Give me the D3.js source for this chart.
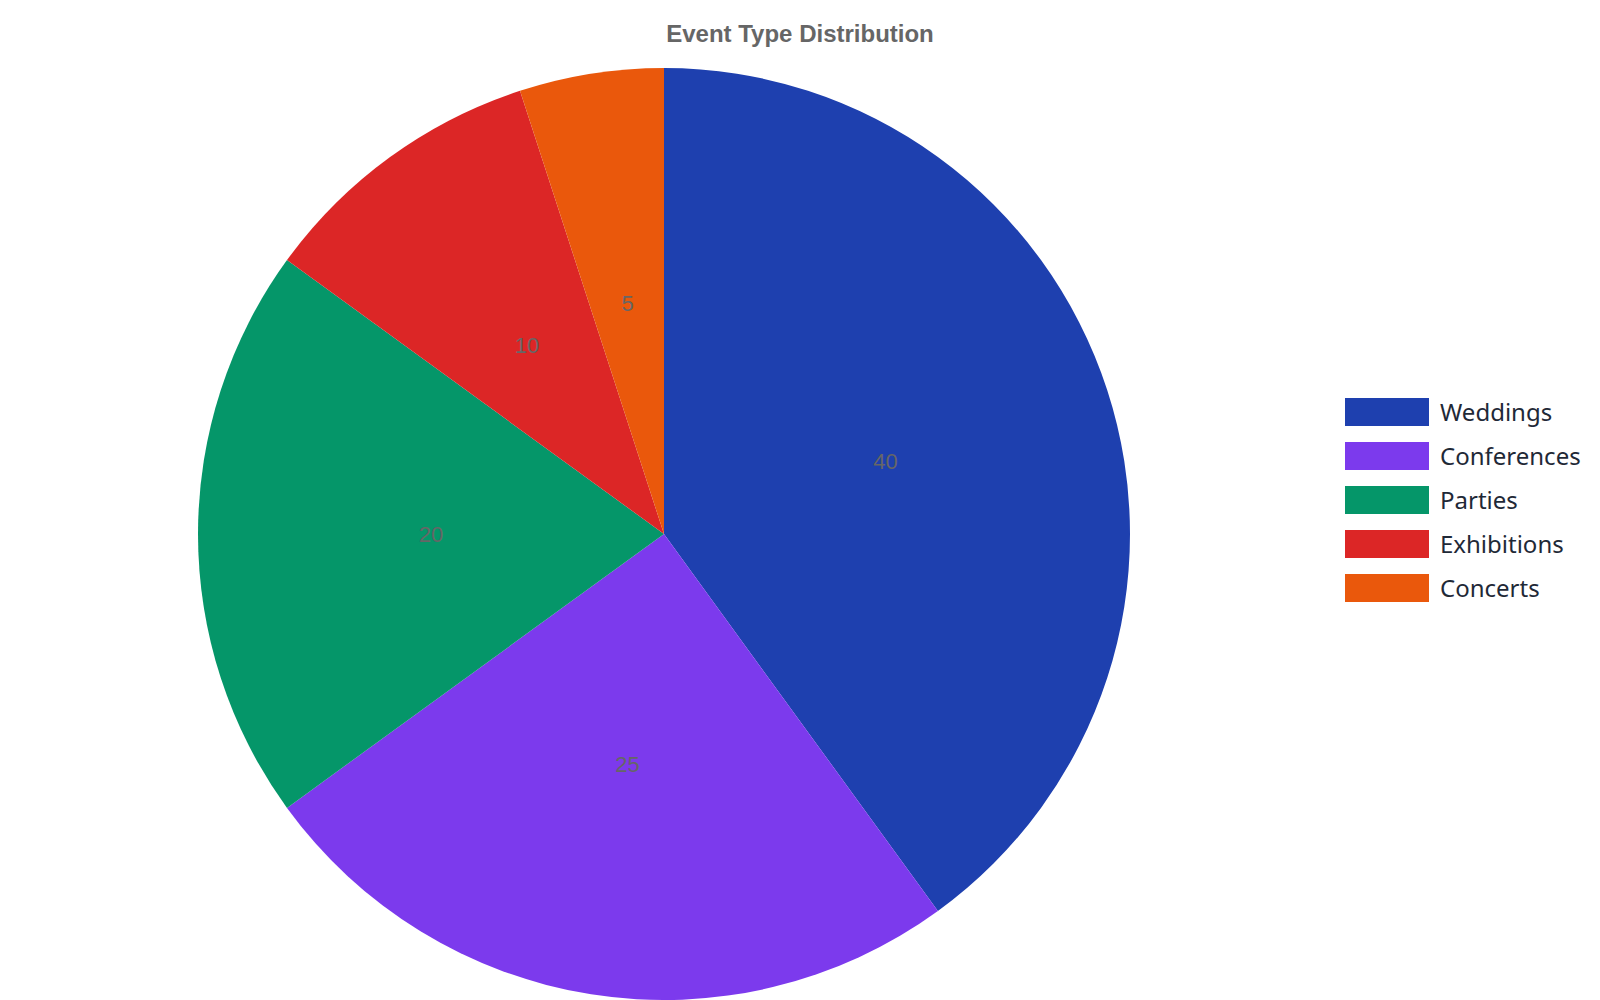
<!DOCTYPE html>
<html>
<head>
<meta charset="utf-8">
<script src="https://cdn.jsdelivr.net/npm/d3@7"></script>
<style>
  html, body { margin: 0; padding: 0; background: #ffffff; }
</style>
</head>
<body>
<div id="canvas"></div>
<script>
"use strict"

/* Data */
let categories = ["Weddings", "Conferences", "Parties", "Exhibitions", "Concerts"];
let eventCounts = [40, 25, 20, 10, 5];
let sliceColors = ["#1e40af", "#7c3aed", "#059669", "#dc2626", "#ea580c"];

/* Drawing dimensions */
let svgWidth = 1600;
let svgHeight = 1000;
let centerX = 664;
let centerY = 534;
let radius = 466;
let labelRadius = radius / 2; // value labels at half the radius

let svg = d3.select("#canvas")
    .append("svg")
    .attr("width", svgWidth)
    .attr("height", svgHeight);

let color = d3.scaleOrdinal()
    .domain(categories)
    .range(sliceColors);

let slices = categories.map(function (c, i) {
    return { name: c, value: eventCounts[i] };
});

let pie = d3.pie()
    .sort(null)
    .value(function (d) { return d.value; });

let arc = d3.arc()
    .innerRadius(0)
    .outerRadius(radius);

let labelArc = d3.arc()
    .innerRadius(labelRadius)
    .outerRadius(labelRadius);

let pieGroup = svg.append("g")
    .attr("transform", "translate(" + centerX + "," + centerY + ")");

let arcs = pie(slices);

pieGroup.selectAll("path")
    .data(arcs)
    .join("path")
    .attr("d", arc)
    .attr("fill", function (d) { return color(d.data.name); });

// value labels in the middle of each slice
pieGroup.selectAll("text")
    .data(arcs)
    .join("text")
    .attr("transform", function (d) {
        return "translate(" + labelArc.centroid(d) + ")";
    })
    .attr("text-anchor", "middle")
    .attr("dominant-baseline", "central")
    .style("font-family", "'Liberation Sans', Arial, sans-serif")
    .style("font-size", "22px")
    .style("fill", "#666666")
    .text(function (d) { return d.data.value; });

/**** title ****/
svg.append("text")
    .attr("x", 800)
    .attr("y", 42)
    .attr("text-anchor", "middle")
    .style("font-family", "'Liberation Sans', Arial, sans-serif")
    .style("font-size", "24px")
    .style("font-weight", "bold")
    .style("fill", "#666666")
    .text("Event Type Distribution");

/**** legend ****/
let legend = svg.append("g")
    .attr("transform", "translate(1345,398)");

let rows = legend.selectAll("g")
    .data(categories)
    .join("g")
    .attr("transform", function (d, i) { return "translate(0," + (i * 44) + ")"; });

rows.append("rect")
    .attr("width", 84)
    .attr("height", 28)
    .attr("fill", function (d) { return color(d); });

rows.append("text")
    .attr("x", 95)
    .attr("y", 13)
    .attr("dominant-baseline", "central")
    .style("font-family", "'Noto Sans', sans-serif")
    .style("font-size", "24px")
    .style("fill", "#1f2937")
    .text(function (d) { return d; });
</script>
</body>
</html>
